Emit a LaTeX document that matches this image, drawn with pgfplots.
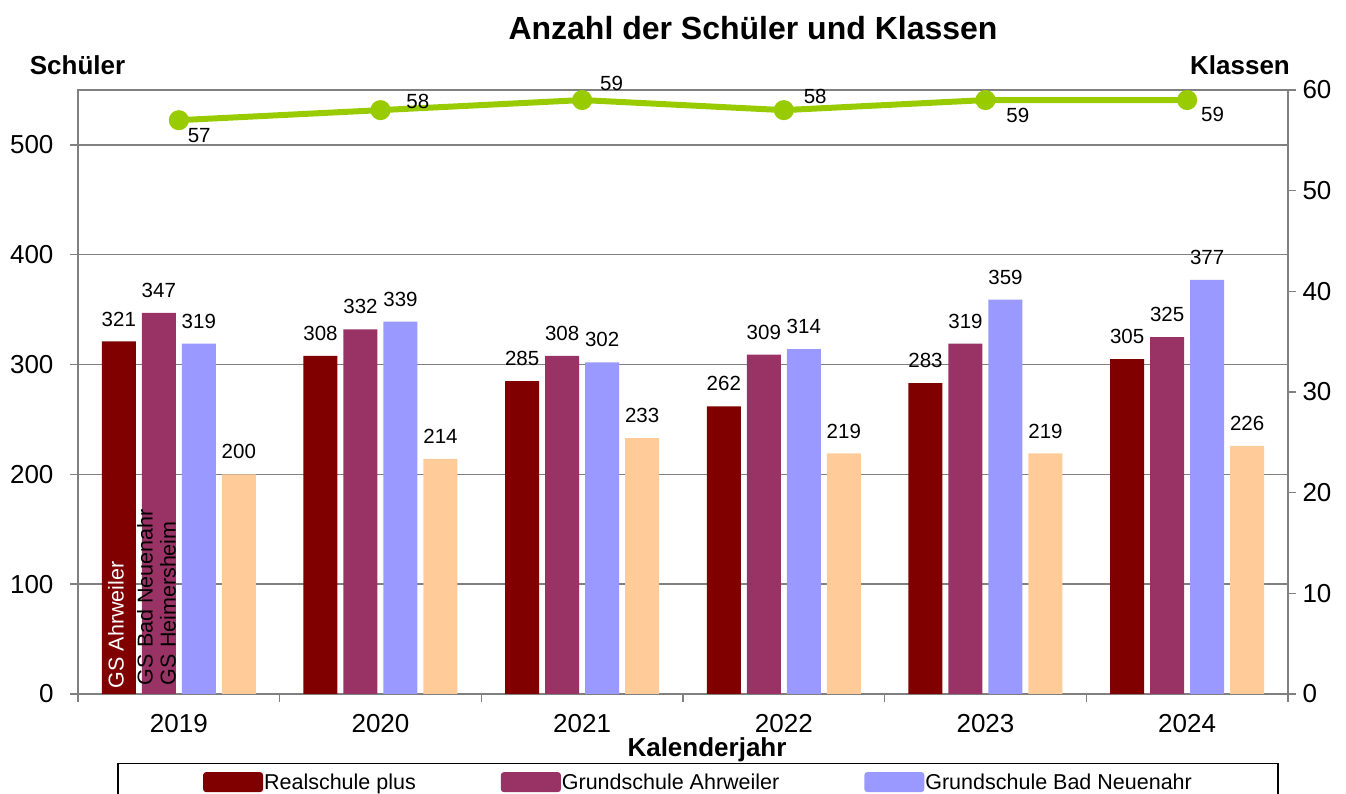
\documentclass[border=0pt]{standalone}
\usepackage{pgfplots}
\usepackage{pgfplotstable}
\pgfplotsset{compat=1.18}
\usepackage{fontspec}
\setmainfont{Liberation Sans}
\definecolor{rs}{HTML}{800000}
\definecolor{ga}{HTML}{993366}
\definecolor{gb}{HTML}{9999FF}
\definecolor{gh}{HTML}{FFCC99}
\definecolor{ln}{HTML}{99CC00}
\definecolor{axgray}{HTML}{808080}

\pgfplotstableread{
x rs ga gb gh
0 321 347 319 200
1 308 332 339 214
2 285 308 302 233
3 262 309 314 219
4 283 319 359 219
5 305 325 377 226
}\bars
\pgfplotstableread{
x k dx dy
0 57 6 -15
1 58 23 9
2 59 15 17
3 58 17 14
4 59 18 -15
5 59 11 -14
}\klassen

\pgfplotsset{myleg/.style={legend image code/.code={\fill[##1, rounded corners=3pt] (0pt,-10pt) rectangle (60pt,10pt);}}}

\begin{document}
\begin{tikzpicture}[font=\fontsize{26}{30}\selectfont]
\begin{axis}[name=ax, at={(0,0)}, anchor=south west,
 scale only axis, width=1210pt, height=604pt,
 xmin=-0.5, xmax=5.5, ymin=0, ymax=550,
 ybar, bar width=34pt,
 xtick={0,1,2,3,4,5}, xticklabels={2019,2020,2021,2022,2023,2024},
 minor xtick={-0.5,0.5,1.5,2.5,3.5,4.5,5.5},
 xtick pos=bottom, ytick pos=left,
 major x tick style={draw=none},
 every tick/.style={axgray, line width=1.5pt},
 minor tick length=8pt, major tick length=8pt,
 tick align=outside,
 ytick={0,100,...,500},
 ymajorgrids, grid style={axgray, line width=1.5pt},
 axis line style={axgray, line width=2pt},
 tick label style={font=\fontsize{26}{30}\selectfont, text=black},
 xticklabel style={yshift=-9pt},
 yticklabel style={xshift=-13pt},
 /pgf/number format/assume math mode=true,
 nodes near coords,
 nodes near coords style={font=\fontsize{20.5}{24}\selectfont, anchor=south, inner sep=0pt, yshift=15pt},
 legend style={at={(0.5124,-0.1142)}, anchor=north, legend columns=3, draw=black, line width=1.2pt,
   inner xsep=85pt, inner ysep=8pt, font=\fontsize{21.5}{24}\selectfont,
   /tikz/every even column/.append style={column sep=84pt},
   nodes={inner xsep=1pt}},
 ]
\addplot[fill=rs, draw=none, myleg, bar shift=-60pt] table[x=x, y=rs]{\bars};
\addlegendentry{Realschule plus}
\addplot[fill=ga, draw=none, myleg, bar shift=-20pt] table[x=x, y=ga]{\bars};
\addlegendentry{Grundschule Ahrweiler}
\addplot[fill=gb, draw=none, myleg, bar shift=20pt] table[x=x, y=gb]{\bars};
\addlegendentry{Grundschule Bad Neuenahr}
\addplot[fill=gh, draw=none, forget plot, bar shift=60pt] table[x=x, y=gh]{\bars};
\node[rotate=90, anchor=west, inner sep=0pt, text=white, font=\fontsize{21.5}{24}\selectfont] at (axis cs:-0.312,5) {GS Ahrweiler};
\node[rotate=90, anchor=west, inner sep=0pt, text=black, font=\fontsize{21.5}{24}\selectfont] at (axis cs:-0.168,8) {GS Bad Neuenahr};
\node[rotate=90, anchor=west, inner sep=0pt, text=black, font=\fontsize{21.5}{24}\selectfont] at (axis cs:-0.054,8) {GS Heimersheim};
\end{axis}
\begin{axis}[at={(0,0)}, anchor=south west,
 scale only axis, width=1210pt, height=604pt,
 xmin=-0.5, xmax=5.5, ymin=0, ymax=60,
 axis x line=none, axis y line*=right,
 ytick={0,10,...,60},
 every tick/.style={axgray, line width=1.5pt},
 major tick length=8pt, tick align=outside,
 axis line style={axgray, line width=2pt},
 tick label style={font=\fontsize{26}{30}\selectfont, text=black},
 yticklabel style={xshift=3pt},
 /pgf/number format/assume math mode=true,
 ]
\addplot[ln, line width=6pt, mark=*, mark size=7pt, mark options={draw=none, fill=ln},
  nodes near coords,
  visualization depends on={\thisrow{dx} \as \dx},
  visualization depends on={\thisrow{dy} \as \dy},
  nodes near coords style={font=\fontsize{20.5}{24}\selectfont, text=black, anchor=west, inner sep=0pt, xshift=\dx, yshift=\dy}]
  table[x=x, y=k]{\klassen};
\end{axis}
\node[font=\bfseries\fontsize{32}{36}\selectfont] at (675pt,666pt) {Anzahl der Schüler und Klassen};
\node[font=\bfseries\fontsize{26}{30}\selectfont] at (-0.5pt,629pt) {Schüler};
\node[font=\bfseries\fontsize{26}{30}\selectfont] at (1162pt,629pt) {Klassen};
\node[font=\bfseries\fontsize{26}{30}\selectfont, inner sep=0pt] at (629pt,-56pt) {Kalenderjahr};
\pgfresetboundingbox
\path[use as bounding box] (-78pt,-100pt) rectangle (1268pt,694pt);
\end{tikzpicture}
\end{document}
